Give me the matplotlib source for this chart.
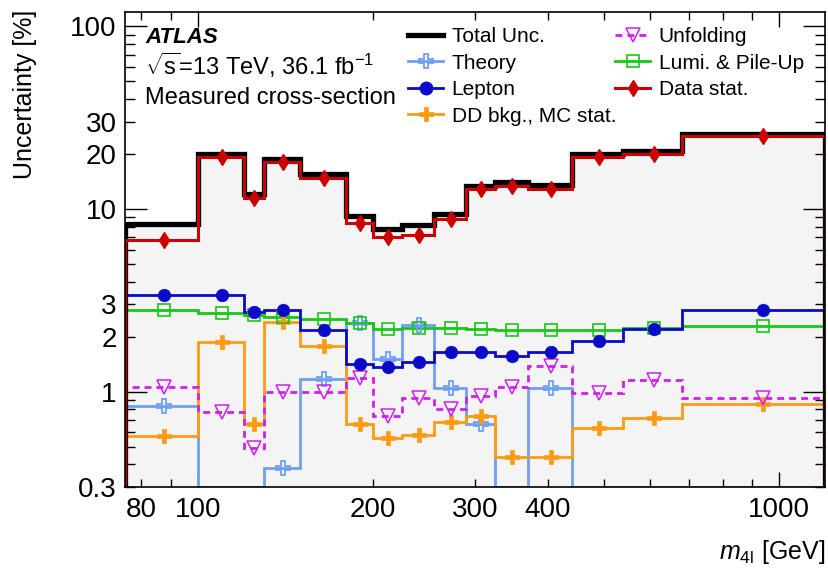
import numpy as np
import matplotlib
matplotlib.use("Agg")
import matplotlib.pyplot as plt
from matplotlib.lines import Line2D
from matplotlib.ticker import FixedLocator, FuncFormatter

plt.rcParams["font.family"] = ["Liberation Sans", "DejaVu Sans"]
plt.rcParams["mathtext.fontset"] = "custom"
plt.rcParams["mathtext.rm"] = "Liberation Sans"
plt.rcParams["mathtext.it"] = "Liberation Sans:italic"
plt.rcParams["mathtext.bf"] = "Liberation Sans:bold"

# ---------------- data ----------------
edges = [75, 100, 120, 130, 150, 180, 200, 225, 255, 290, 325, 370, 440, 540, 680, 1200]
total = [8.3, 20.1, 12.1, 18.9, 15.6, 9.2, 7.75, 8.15, 9.4, 13.3, 14.0, 13.5, 19.9, 20.7, 25.9]
data_stat = [6.8, 19.3, 11.5, 18.1, 14.8, 8.35, 7.05, 7.2, 8.8, 12.9, 13.4, 12.9, 19.3, 19.9, 25.2]
theory = [0.83, 0, 0, 0.38, 1.17, 2.37, 1.50, 2.32, 1.04, 0.66, 0, 1.05, 0, 0, 0]
lepton = [3.39, 3.37, 2.72, 2.80, 2.17, 1.42, 1.36, 1.45, 1.64, 1.64, 1.56, 1.64, 1.90, 2.19, 2.79]
dd_bkg = [0.57, 1.87, 0.66, 2.41, 1.78, 0.66, 0.56, 0.58, 0.68, 0.73, 0.44, 0.44, 0.63, 0.72, 0.855]
unfolding = [1.06, 0.77, 0.49, 1.00, 1.00, 1.18, 0.73, 0.92, 0.80, 0.94, 1.06, 1.38, 0.98, 1.15, 0.92]
lumi = [2.78, 2.69, 2.63, 2.57, 2.50, 2.38, 2.20, 2.24, 2.24, 2.20, 2.17, 2.17, 2.17, 2.22, 2.30]

y_labels = {0.3: "0.3", 1: "1", 2: "2", 3: "3", 10: "10", 20: "20", 30: "30", 100: "100"}
x_labels = {80: "80", 100: "100", 200: "200", 300: "300", 400: "400", 1000: "1000"}

edges_a = np.array(edges, dtype=float)
centers = 0.5 * (edges_a[:-1] + edges_a[1:])
YMIN, YMAX = 0.3, 120

fig = plt.figure(figsize=(8.29, 5.70), dpi=100)
ax = fig.add_axes([125 / 829, 1 - 487 / 570, 700 / 829, 475 / 570])
ax.set_xscale("log")
ax.set_yscale("log")
ax.set_xlim(75, 1200)
ax.set_ylim(YMIN, YMAX)

# grey fill under total
ax.stairs(total, edges, fill=True, baseline=0.01, color="#f4f4f4", zorder=0)

c_theory = "#6e9ff5"
c_lepton = "#0a0ac8"
c_dd = "#ff9a12"
c_unf = "#d21ef0"
c_lumi = "#17c817"
c_data = "#cc0000"

lw = 2.0


def plot_series(vals, color, marker, mfc, ms, mew=1.2, ls="-", z=3):
    v = np.array(vals, dtype=float)
    ax.stairs(np.maximum(v, YMIN), edges, color=color, lw=lw, ls=ls, zorder=z)
    m = v >= YMIN
    ax.plot(centers[m], v[m], ls="none", marker=marker, color=color, mfc=mfc,
            mec=color, ms=ms, mew=mew, zorder=z + 0.5)


plot_series(theory, c_theory, "P", "none", 10, 1.3)
plot_series(dd_bkg, c_dd, "P", c_dd, 10, 0.5)
plot_series(unfolding, c_unf, "v", "none", 10, 1.1, ls=(0, (2.5, 1.8)))
plot_series(lumi, c_lumi, "s", "none", 9, 1.2)
plot_series(lepton, c_lepton, "o", c_lepton, 9, 0.5)

ax.stairs(total, edges, color="black", lw=3.8, zorder=6)
ax.stairs(data_stat, edges, color=c_data, lw=2.2, zorder=7)
ax.plot(centers, data_stat, ls="none", marker="d", color=c_data, ms=8, zorder=8)

# ticks
ax.yaxis.set_major_locator(FixedLocator([1, 10, 100]))
ax.yaxis.set_minor_locator(FixedLocator([m * d for d in [0.1, 1, 10, 100] for m in range(2, 10)]))
fmt_y = FuncFormatter(lambda v, p: next((s for k, s in y_labels.items() if abs(v - k) < 1e-6 * k), ""))
ax.yaxis.set_major_formatter(fmt_y)
ax.yaxis.set_minor_formatter(fmt_y)

ax.xaxis.set_major_locator(FixedLocator([100, 1000]))
ax.xaxis.set_minor_locator(FixedLocator([m * d for d in [10, 100] for m in range(2, 10)]))
fmt_x = FuncFormatter(lambda v, p: next((s for k, s in x_labels.items() if abs(v - k) < 1e-6 * k), ""))
ax.xaxis.set_major_formatter(fmt_x)
ax.xaxis.set_minor_formatter(fmt_x)

ax.tick_params(axis="both", which="both", direction="in", top=True, right=True,
               labelsize=20, width=1.0, color="black")
ax.tick_params(axis="y", which="major", length=16, pad=6)
ax.tick_params(axis="y", which="minor", length=7.5, pad=6)
ax.tick_params(axis="x", which="major", length=11, pad=7)
ax.tick_params(axis="x", which="minor", length=5.5, pad=7)
for s in ax.spines.values():
    s.set_linewidth(1.2)
    s.set_zorder(10)

# labels
ax.text(1.0, -0.137, r"$m_{\mathrm{4l}}$ [GeV]", transform=ax.transAxes,
        ha="right", va="center", fontsize=18)
ax.text(-0.143, 1.004, "Uncertainty [%]", transform=ax.transAxes,
        ha="center", va="top", rotation=90, fontsize=18)

ax.text(0.0286, 0.947, "ATLAS", transform=ax.transAxes, ha="left", va="center",
        fontsize=16, fontweight="bold", fontstyle="italic")
ax.text(0.0286, 0.888, r"$\sqrt{\mathrm{s}}$=13 TeV, 36.1 fb$^{\mathrm{-1}}$", transform=ax.transAxes,
        ha="left", va="center", fontsize=17)
ax.text(0.0286, 0.820, "Measured cross-section", transform=ax.transAxes, ha="left", va="center",
        fontsize=17)

# legends
h_total = Line2D([], [], color="black", lw=3.8)
h_theory = Line2D([], [], color=c_theory, lw=lw, marker="P", mfc="none", mec=c_theory, ms=10, mew=1.3)
h_lep = Line2D([], [], color=c_lepton, lw=lw, marker="o", ms=9)
h_dd = Line2D([], [], color=c_dd, lw=lw, marker="P", ms=10, mew=0.5)
h_unf = Line2D([], [], color=c_unf, lw=lw, ls=(0, (2.5, 1.8)), marker="v", mfc="none", mec=c_unf, ms=10, mew=1.1)
h_lumi = Line2D([], [], color=c_lumi, lw=lw, marker="s", mfc="none", mec=c_lumi, ms=9, mew=1.2)
h_data = Line2D([], [], color=c_data, lw=2.2, marker="d", ms=8)

common = dict(loc="upper left", frameon=False, fontsize=15, borderpad=0, borderaxespad=0,
              handlelength=1.7, handletextpad=0.4, labelspacing=0.36)
leg1 = ax.legend([h_total, h_theory, h_lep, h_dd],
                 ["Total Unc.", "Theory", "Lepton", "DD bkg., MC stat."],
                 bbox_to_anchor=(0.404, 0.968), **common)
ax.add_artist(leg1)
leg2 = ax.legend([h_unf, h_lumi, h_data],
                 ["Unfolding", "Lumi. & Pile-Up", "Data stat."],
                 bbox_to_anchor=(0.700, 0.968), **common)
for lg in (leg1, leg2):
    lg.set_zorder(12)

fig.savefig("out.png", dpi=100)
